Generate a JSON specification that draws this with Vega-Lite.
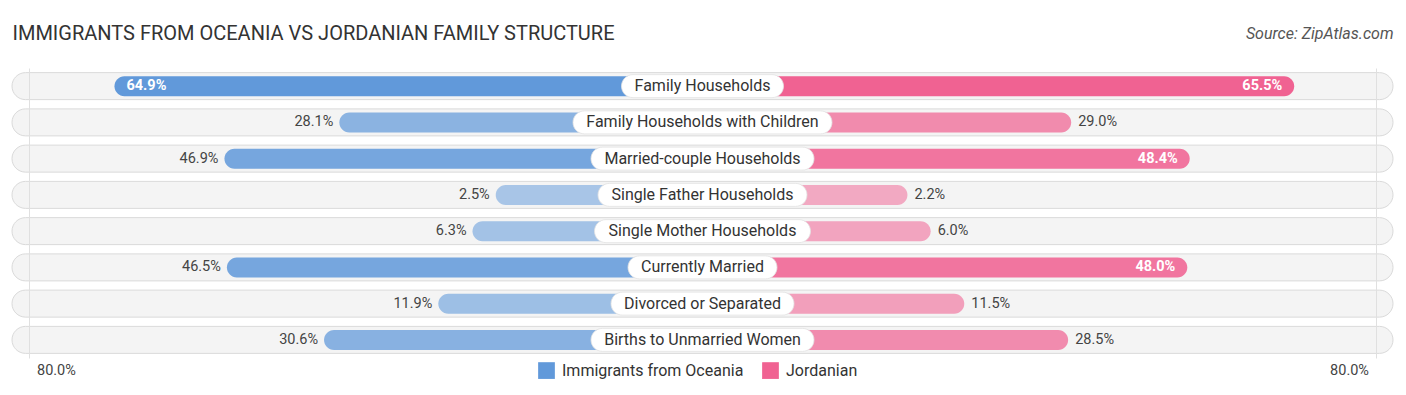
{
  "$schema": "https://vega.github.io/schema/vega-lite/v6.json",
  "width": 1381,
  "height": 290,
  "autosize": {"type": "none"},
  "padding": {"left": 12, "right": 13, "top": 68, "bottom": 37},
  "background": "white",
  "config": {"view": {"stroke": null}, "font": "Roboto"},
  "data": {
    "values": [
      {"label": "Family Households", "oceania": 0.649, "jordanian": 0.655},
      {"label": "Family Households with Children", "oceania": 0.281, "jordanian": 0.290},
      {"label": "Married-couple Households", "oceania": 0.469, "jordanian": 0.484},
      {"label": "Single Father Households", "oceania": 0.025, "jordanian": 0.022},
      {"label": "Single Mother Households", "oceania": 0.063, "jordanian": 0.060},
      {"label": "Currently Married", "oceania": 0.465, "jordanian": 0.480},
      {"label": "Divorced or Separated", "oceania": 0.119, "jordanian": 0.115},
      {"label": "Births to Unmarried Women", "oceania": 0.306, "jordanian": 0.285}
    ]
  },
  "encoding": {
    "y": {"field": "label", "type": "nominal", "sort": null, "axis": null, "scale": {"paddingInner": 0, "paddingOuter": 0}}
  },
  "layer": [
    {
      "mark": {"type": "bar", "height": 27, "cornerRadius": 13.5, "fill": "#f4f4f4", "stroke": "#dadada", "strokeWidth": 1},
      "encoding": {
        "x": {"datum": -0.8208, "type": "quantitative", "scale": {"domain": [-0.8208, 0.8208], "nice": false, "zero": false},
          "axis": {"orient": "bottom", "values": [-0.8, 0.8], "grid": true, "gridColor": "#e0e0e0", "domain": false, "ticks": false,
            "labelExpr": "format(abs(datum.value), '.1%')",
            "labelAlign": {"condition": {"test": "datum.value < 0", "value": "left"}, "value": "right"},
            "labelOffset": {"condition": {"test": "datum.value < 0", "value": 7}, "value": -7},
            "labelPadding": 5, "labelFontSize": 14.5, "labelColor": "#444", "labelFont": "Roboto", "title": null, "zindex": 1}},
        "x2": {"datum": 0.8208}
      }
    },
    {
      "mark": {"type": "bar", "height": 20, "cornerRadius": 10},
      "encoding": {
        "x": {"field": "oceania", "type": "quantitative", "scale": {"domain": [-1.4435, 0.8167], "reverse": true, "nice": false, "zero": false}, "axis": null},
        "x2": {"datum": -0.313},
        "color": {"datum": "Immigrants from Oceania", "type": "nominal",
          "scale": {"domain": ["Immigrants from Oceania", "Jordanian"], "range": ["#6199da", "#f06292"]},
          "legend": {"orient": "none", "legendX": 526, "legendY": 294, "direction": "horizontal", "title": null,
            "symbolType": "square", "symbolSize": 280, "symbolStrokeWidth": 0, "symbolOpacity": 1, "labelLimit": 0,
            "labelFontSize": 16, "labelColor": "#333", "labelFont": "Roboto", "columnPadding": 18, "labelOffset": 7}},
        "opacity": {"field": "oceania", "type": "quantitative", "scale": {"domain": [0, 0.65], "range": [0.5, 1]}, "legend": null}
      }
    },
    {
      "mark": {"type": "bar", "height": 20, "cornerRadius": 10},
      "encoding": {
        "x": {"field": "jordanian", "type": "quantitative", "scale": {"domain": [-1.4435, 0.8167], "nice": false, "zero": false},
          "axis": {"orient": "top", "title": "Source: ZipAtlas.com", "titleAnchor": "end", "titleFontStyle": "italic", "titleFontWeight": "normal",
            "titleFontSize": 16, "titleColor": "#555", "titleFont": "Roboto", "titleBaseline": "middle", "titleY": -35,
            "labels": false, "ticks": false, "domain": false, "grid": false}},
        "x2": {"datum": -0.313},
        "color": {"datum": "Jordanian", "type": "nominal"},
        "opacity": {"field": "jordanian", "type": "quantitative", "scale": {"domain": [0, 0.65], "range": [0.5, 1]}, "legend": null}
      }
    },
    {
      "transform": [{"filter": "datum.oceania < 0.475"}],
      "mark": {"type": "text", "align": "right", "dx": -6, "fontSize": 14.5, "color": "#444"},
      "encoding": {
        "x": {"field": "oceania", "type": "quantitative", "scale": {"domain": [-1.4435, 0.8167], "reverse": true, "nice": false, "zero": false}, "axis": null},
        "text": {"field": "oceania", "type": "quantitative", "format": ".1%"}
      }
    },
    {
      "transform": [{"filter": "datum.oceania >= 0.475"}],
      "mark": {"type": "text", "align": "left", "dx": 12, "fontSize": 14.5, "color": "white", "fontWeight": "bold"},
      "encoding": {
        "x": {"field": "oceania", "type": "quantitative", "scale": {"domain": [-1.4435, 0.8167], "reverse": true, "nice": false, "zero": false}, "axis": null},
        "text": {"field": "oceania", "type": "quantitative", "format": ".1%"}
      }
    },
    {
      "transform": [{"filter": "datum.jordanian < 0.475"}],
      "mark": {"type": "text", "align": "left", "dx": 7, "fontSize": 14.5, "color": "#444"},
      "encoding": {
        "x": {"field": "jordanian", "type": "quantitative", "scale": {"domain": [-1.4435, 0.8167], "nice": false, "zero": false}, "axis": null},
        "text": {"field": "jordanian", "type": "quantitative", "format": ".1%"}
      }
    },
    {
      "transform": [{"filter": "datum.jordanian >= 0.475"}],
      "mark": {"type": "text", "align": "right", "dx": -12, "fontSize": 14.5, "color": "white", "fontWeight": "bold"},
      "encoding": {
        "x": {"field": "jordanian", "type": "quantitative", "scale": {"domain": [-1.4435, 0.8167], "nice": false, "zero": false}, "axis": null},
        "text": {"field": "jordanian", "type": "quantitative", "format": ".1%"}
      }
    },
    {
      "mark": {"type": "tick", "orient": "horizontal", "thickness": 23, "cornerRadius": 11.5, "color": "white", "opacity": 1, "stroke": "#e2e2e2", "strokeWidth": 0.8},
      "encoding": {
        "x": {"datum": 0, "type": "quantitative", "scale": {"domain": [-1, 1], "nice": false},
          "axis": {"orient": "top", "title": "IMMIGRANTS FROM OCEANIA VS JORDANIAN FAMILY STRUCTURE", "titleAnchor": "start", "titleFontWeight": "normal",
            "titleFontSize": 20, "titleColor": "#333", "titleFont": "Roboto", "titleBaseline": "middle", "titleY": -35,
            "labels": false, "ticks": false, "domain": false, "grid": false}},
        "size": {"field": "label", "type": "nominal",
          "scale": {"type": "ordinal",
            "domain": ["Family Households", "Family Households with Children", "Married-couple Households", "Single Father Households", "Single Mother Households", "Currently Married", "Divorced or Separated", "Births to Unmarried Women"],
            "range": [162, 259, 223, 209, 216, 149, 183, 223]},
          "legend": null}
      }
    },
    {
      "mark": {"type": "text", "fontSize": 16, "color": "#333"},
      "encoding": {
        "x": {"datum": 0, "type": "quantitative", "scale": {"domain": [-1, 1], "nice": false}, "axis": null},
        "text": {"field": "label", "type": "nominal"}
      }
    }
  ],
  "resolve": {"scale": {"x": "independent", "size": "independent"}}
}
